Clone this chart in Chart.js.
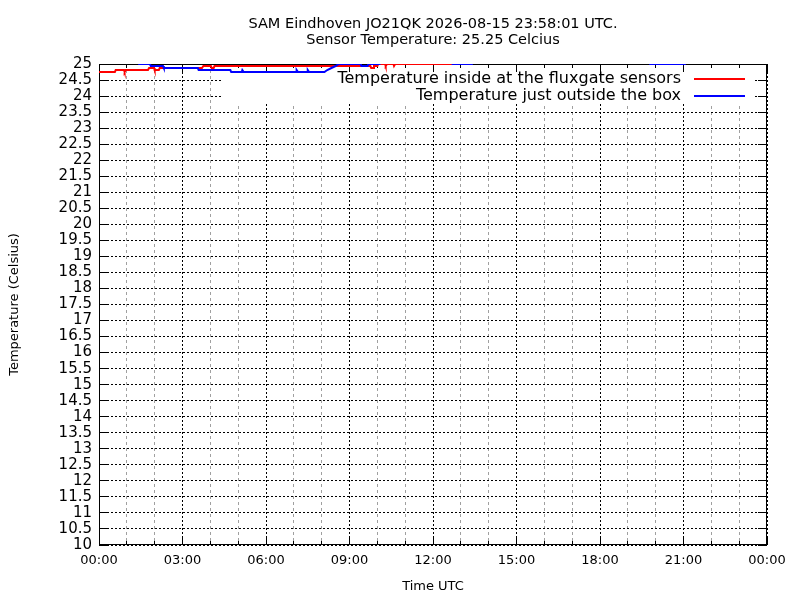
<!DOCTYPE html>
<html><head><meta charset="utf-8">
<script src="https://cdn.jsdelivr.net/npm/chart.js@4"></script>
<style>html,body{margin:0;padding:0;background:#fff}canvas{display:block}</style>
</head><body>
<canvas id="c" width="800" height="600"></canvas>
<script>
const titleLines = ["SAM Eindhoven JO21QK 2026-08-15 23:58:01 UTC.", "Sensor Temperature: 25.25 Celcius"];
const xTickLabels = ["00:00","03:00","06:00","09:00","12:00","15:00","18:00","21:00","00:00"];
const seriesLabels = ["Temperature inside at the fluxgate sensors", "Temperature just outside the box"];
const seriesColors = ["#ff0000", "#0000ff"];

const redTimes  = [0.00, 0.57, 0.60, 0.90, 0.92, 0.96, 1.76, 1.80, 1.98, 2.00, 2.15, 2.18, 3.70, 3.75, 4.02, 4.05, 4.12, 4.15, 9.75, 9.78, 9.85, 9.88, 10.00, 10.03, 10.28, 10.30, 10.35, 10.58, 10.60, 10.64, 12.70, 12.74, 13.5, 15.0, 17.0, 19.0, 21.0, 23.97];
const redValues = [24.75, 24.75, 24.8125, 24.8125, 24.75, 24.8125, 24.8125, 24.875, 24.875, 24.8125, 24.8125, 24.875, 24.875, 24.9375, 24.9375, 24.875, 24.875, 24.9375, 24.9375, 24.875, 24.875, 24.9375, 24.9375, 25.0, 25.0, 24.9375, 25.0, 25.0, 24.9375, 25.0, 25.0, 25.0625, 25.125, 25.4, 25.6, 25.5, 25.375, 25.25];

const blueTimes  = [0.00, 0.80, 1.40, 1.44, 1.83, 1.86, 2.30, 2.33, 3.55, 3.58, 4.72, 4.75, 5.13, 5.15, 5.20, 7.08, 7.10, 7.15, 7.48, 7.50, 7.55, 8.10, 8.20, 8.35, 8.50, 8.62, 9.40, 9.43, 9.65, 9.68, 10.08, 10.12, 11.5, 12.66, 12.70, 13.40, 13.44, 15.0, 17.0, 19.0, 19.76, 19.80, 21.05, 21.09, 23.97];
const blueValues = [25.25, 25.125, 25.0625, 25.0, 25.0, 24.9375, 24.9375, 24.875, 24.875, 24.8125, 24.8125, 24.75, 24.75, 24.8125, 24.75, 24.75, 24.8125, 24.75, 24.75, 24.8125, 24.75, 24.75, 24.8125, 24.875, 24.9375, 25.0, 25.0, 24.9375, 24.9375, 25.0, 25.0, 25.0625, 25.25, 25.0625, 25.0, 25.0, 25.0625, 25.375, 25.5, 25.25, 25.0625, 25.0, 25.0, 25.0625, 25.3125];

const FONT = "DejaVu Sans";
Chart.defaults.font.family = FONT;
Chart.defaults.color = "#000";

function pts(xs, ys) { return xs.map((x, i) => ({x: x, y: ys[i]})); }

const framePlugin = {
  id: "gnuframe",
  beforeDatasetsDraw(chart) {
    const {ctx, chartArea: a, scales} = chart;
    ctx.save();
    // opaque key box
    ctx.fillStyle = "#fff";
    ctx.fillRect(a.left + 123, a.top + 4, (a.right - 13) - (a.left + 123), 35);
    // inward tick marks
    ctx.strokeStyle = "#000";
    ctx.lineWidth = 1;
    ctx.beginPath();
    scales.y.ticks.forEach(t => {
      const py = Math.round(scales.y.getPixelForValue(t.value) - 0.5) + 0.5;
      ctx.moveTo(a.left, py); ctx.lineTo(a.left + 9, py);
      ctx.moveTo(a.right, py); ctx.lineTo(a.right - 9, py);
    });
    scales.xm.ticks.forEach(t => {
      const len = (Math.round(t.value) % 3 === 0) ? 8 : 4;
      const px = Math.round(scales.xm.getPixelForValue(t.value) - 0.5) + 0.5;
      ctx.moveTo(px, a.bottom); ctx.lineTo(px, a.bottom - len);
      ctx.moveTo(px, a.top); ctx.lineTo(px, a.top + len);
    });
    ctx.stroke();
    ctx.strokeRect(Math.round(a.left) + 0.5, Math.round(a.top) + 0.5, Math.round(a.right - a.left) - 1, Math.round(a.bottom - a.top) - 1);
    ctx.restore();
  },
  afterDatasetsDraw(chart) {
    const {ctx, chartArea: a} = chart;
    ctx.save();
    ctx.font = "16px '" + FONT + "'";
    ctx.textAlign = "right";
    ctx.textBaseline = "middle";
    chart.data.datasets.forEach((ds, i) => {
      const y = a.top + 15 + i * 16.5;
      ctx.fillStyle = "#000";
      ctx.fillText(ds.label, a.right - 86, y);
      ctx.strokeStyle = ds.borderColor;
      ctx.lineWidth = 2;
      ctx.beginPath();
      ctx.moveTo(a.right - 73, Math.round(y));
      ctx.lineTo(a.right - 22, Math.round(y));
      ctx.stroke();
    });
    ctx.restore();
  }
};

new Chart(document.getElementById("c"), {
  type: "line",
  data: {
    datasets: [
      { label: seriesLabels[0], data: pts(redTimes, redValues), borderColor: seriesColors[0], backgroundColor: seriesColors[0], borderWidth: 2, pointRadius: 0, tension: 0, fill: false, order: 1, xAxisID: "x", yAxisID: "y" },
      { label: seriesLabels[1], data: pts(blueTimes, blueValues), borderColor: seriesColors[1], backgroundColor: seriesColors[1], borderWidth: 2, pointRadius: 0, tension: 0, fill: false, order: 0, xAxisID: "x", yAxisID: "y" }
    ]
  },
  options: {
    responsive: false,
    animation: false,
    devicePixelRatio: 1,
    layout: { padding: { left: 0, right: 33, top: 0, bottom: 0 } },
    plugins: {
      legend: { display: false },
      tooltip: { enabled: false },
      title: {
        display: true,
        text: titleLines,
        fullSize: false,
        color: "#000",
        font: { family: FONT, size: 14.5, weight: "normal", lineHeight: 16 / 14.5 },
        padding: { top: 16, bottom: 16 }
      }
    },
    scales: {
      x: {
        type: "linear", position: "bottom", min: 0, max: 24, weight: 1,
        ticks: { stepSize: 3, autoSkip: false, maxRotation: 0, maxTicksLimit: 100, padding: 8,
          font: { size: 13 }, color: "#000",
          callback: v => xTickLabels[Math.round(v / 3)] },
        grid: { color: "#000", lineWidth: 1, drawTicks: false },
        border: { display: false, dash: [2, 2] },
        title: { display: true, text: "Time UTC", font: { size: 13 }, color: "#000", padding: { top: 0, bottom: 6 } },
        afterFit: s => { s.height = 55; }
      },
      xm: {
        type: "linear", position: "bottom", min: 0, max: 24, weight: 0,
        ticks: { display: false, stepSize: 1, autoSkip: false, maxTicksLimit: 100 },
        grid: { color: c => (c.tick && Math.round(c.tick.value) % 3 !== 0) ? "#a0a0a0" : "rgba(0,0,0,0)", lineWidth: 1, drawTicks: false },
        border: { display: false, dash: [3, 3] },
        afterFit: s => { s.height = 0; }
      },
      y: {
        type: "linear", position: "left", min: 10, max: 25,
        ticks: { stepSize: 0.5, autoSkip: false, maxTicksLimit: 100, padding: 7, font: { size: 15 }, color: "#000",
          callback: v => String(Math.round(v * 10) / 10) },
        grid: { color: "#000", lineWidth: 1, drawTicks: false },
        border: { display: false, dash: [2, 2] },
        title: { display: true, text: "Temperature (Celsius)", font: { size: 13 }, color: "#000", padding: { top: 7, bottom: 0 } },
        afterFit: s => { s.width = 99; }
      }
    }
  },
  plugins: [framePlugin]
});
</script>
</body></html>
